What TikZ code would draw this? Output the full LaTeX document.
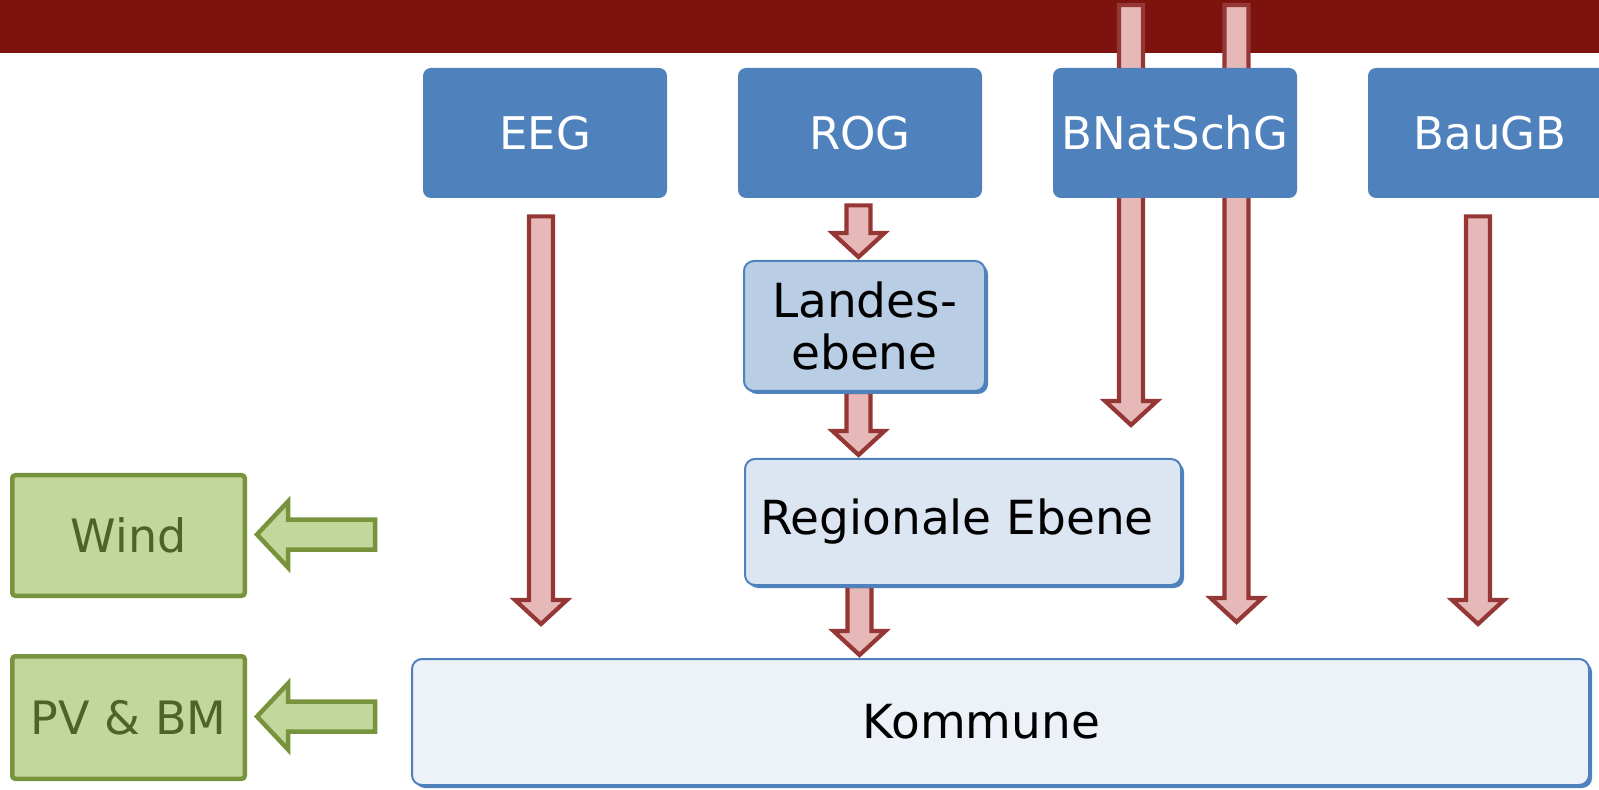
\documentclass[tikz,border=0pt]{standalone}
\usepackage{fontspec}
\setmainfont{DejaVu Sans}
\usetikzlibrary{calc,shadows}
\definecolor{barred}{HTML}{7D120E}
\definecolor{boxblue}{HTML}{4F81BD}
\definecolor{landesfill}{HTML}{B9CDE5}
\definecolor{regfill}{HTML}{DCE6F2}
\definecolor{komfill}{HTML}{EDF2F9}
\definecolor{arrowfill}{HTML}{E6B9B8}
\definecolor{arrowline}{HTML}{953735}
\definecolor{greenfill}{HTML}{C3D69B}
\definecolor{greenline}{HTML}{77933C}
\definecolor{greentext}{HTML}{4F6228}
\pgfdeclarelayer{bg}\pgfdeclarelayer{mid}\pgfsetlayers{bg,mid,main}
\newcommand\blkdown[2]{\draw[redarrow] let \p1=#1, \p2=#2 in
  (\x1-6pt,\y1) -- (\x1+6pt,\y1) -- (\x1+6pt,\y2+12pt) -- (\x1+13pt,\y2+12pt)
  -- (\x1,\y2) -- (\x1-13pt,\y2+12pt) -- (\x1-6pt,\y2+12pt) -- cycle;}
\newcommand\blkleft[2]{\draw[greenarrow] let \p1=#1, \p2=#2 in
  (\x1,\y2+7.5pt) -- (\x2+15.5pt,\y2+7.5pt) -- (\x2+15.5pt,\y2+16.5pt) -- (\x2,\y2)
  -- (\x2+15.5pt,\y2-16.5pt) -- (\x2+15.5pt,\y2-7.5pt) -- (\x1,\y2-7.5pt) -- cycle;}
\begin{document}
\begin{tikzpicture}[x=0.5pt,y=-0.5pt,
  topbox/.style={fill=boxblue, draw=none, rounded corners=4pt, minimum width=122pt, minimum height=65pt, inner sep=0pt, text=white, font=\fontsize{22.5}{27}\selectfont},
  lightbox/.style={draw=boxblue, line width=1pt, rounded corners=5pt, inner sep=0pt, font=\fontsize{23.5}{26}\selectfont, align=center, drop shadow={shadow xshift=1.5pt, shadow yshift=-1.5pt, fill=boxblue, opacity=1}},
  greenbox/.style={fill=greenfill, draw=greenline, line width=2.25pt, rounded corners=1.5pt, inner sep=0pt, text=greentext, font=\fontsize{23}{27}\selectfont},
  redarrow/.style={fill=arrowfill, draw=arrowline, line width=2.1pt, line join=miter},
  greenarrow/.style={fill=greenfill, draw=greenline, line width=2.25pt, line join=miter}]
\clip (0,0) rectangle (1599,790);
\begin{pgfonlayer}{bg}
\fill[barred] (0,0) rectangle (1599,53);
\end{pgfonlayer}
\node[topbox] (eeg) at (545,133) {EEG};
\node[topbox] (rog) at (860,133) {ROG};
\node[topbox] (bnat) at (1175,133) {BNatSchG};
\node[topbox] (baugb) at (1490,133) {BauGB};
\node[lightbox, fill=landesfill, minimum width=120.5pt, minimum height=65pt] (landes) at (864.5,326) {Landes-\\ebene};
\node[lightbox, fill=regfill, minimum width=218pt, minimum height=63pt] (reg) at (963,522) {Regionale Ebene\hspace*{6pt}};
\node[lightbox, fill=komfill, minimum width=588.5pt, minimum height=63pt] (kom) at (1000.5,722) {Kommune\hspace*{19pt}};
\node[greenbox, minimum width=116.25pt, minimum height=60.25pt] (wind) at (128.5,535.5) {Wind};
\node[greenbox, minimum width=116.25pt, minimum height=61.25pt] (pv) at (128.5,717.5) {PV \& BM};
\coordinate (windsrc) at (375,534);
\coordinate (pvsrc) at (375,716);
\coordinate (bnsrcA) at (1131,5);
\coordinate (bnsrcB) at (1236.5,5);
\begin{pgfonlayer}{mid}
\blkdown{($(eeg.south)+(-4,18)$)}{($(kom.north)+(0,-34)$)}
\blkdown{($(rog.south)+(-1.5,7)$)}{($(landes.north)+(0,-3)$)}
\blkdown{($(landes.south)+(-6,0)$)}{($(reg.north)+(0,-3)$)}
\blkdown{($(reg.south)+(-103.5,0)$)}{($(kom.north)+(0,-3)$)}
\blkdown{(bnsrcA)}{($(reg.north)+(0,-33)$)}
\blkdown{(bnsrcB)}{($(kom.north)+(0,-36)$)}
\blkdown{($(baugb.south)+(-12,18)$)}{($(kom.north)+(0,-34)$)}
\blkleft{(windsrc)}{($(wind.east)+(10,-1)$)}
\blkleft{(pvsrc)}{($(pv.east)+(10,-1)$)}
\end{pgfonlayer}
\end{tikzpicture}
\end{document}
